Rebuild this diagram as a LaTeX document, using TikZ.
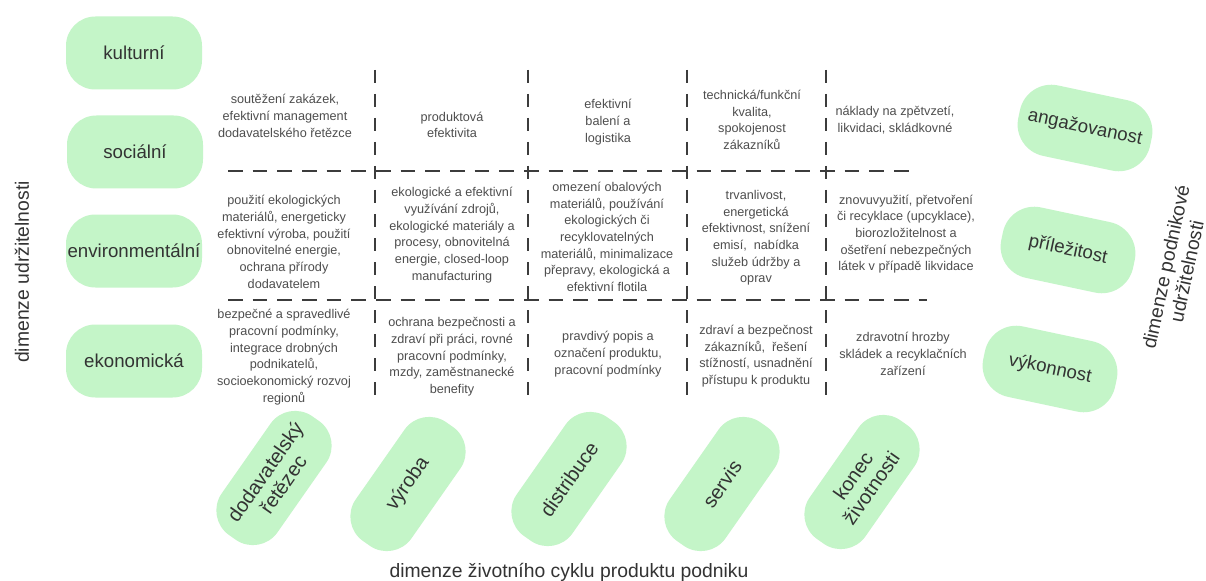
\documentclass[tikz,border=0pt]{standalone}
\usepackage{fontspec}
\setmainfont{Liberation Sans}
\definecolor{pillgreen}{RGB}{196,245,200}
\definecolor{pilltext}{RGB}{51,51,51}
\definecolor{celltext}{RGB}{78,78,78}
\definecolor{gridline}{RGB}{60,60,60}
\begin{document}
\begin{tikzpicture}[x=0.75pt,y=-0.75pt,
  pill/.style={rounded corners=22pt, fill=pillgreen, minimum width=102pt,
    minimum height=54.75pt, text=pilltext, inner sep=0pt, align=center,
    font=\fontsize{14}{16}\selectfont},
  lifepill/.style={pill, rotate=55, minimum width=108.75pt, minimum height=51pt,
    rounded corners=22.5pt, font=\fontsize{15}{16.5}\selectfont},
  firmpill/.style={pill, rotate=-12, minimum width=101pt, minimum height=54pt,
    rounded corners=24pt},
  cell/.style={align=center, text=celltext, inner sep=0pt,
    font=\fontsize{9.5}{12.5}\selectfont},
  axislabel/.style={align=center, text=pilltext, inner sep=0pt,
    font=\fontsize{14.5}{16}\selectfont},
  vgrid/.style={draw=gridline, line width=0.8pt, dash pattern=on 10pt off 8pt},
  hgrid/.style={draw=gridline, line width=0.8pt, dash pattern=on 11pt off 7.5pt}]

\useasboundingbox[fill=white] (0,0) rectangle (1206,581);

% grid of the matrix
\draw[vgrid] (375,70) -- (375,405);
\draw[vgrid] (528,70) -- (528,405);
\draw[vgrid] (687,70) -- (687,405);
\draw[vgrid] (826,70) -- (826,405);
\draw[hgrid] (228,171) -- (910,171);
\draw[hgrid] (228,300) -- (927,300);

% sustainability dimensions
\node[pill] (kult) at (134,53) {kulturní};
\node[pill] (soc) at (135,152) {sociální};
\node[pill] (env) at (134,251) {environmentální};
\node[pill] (eko) at (134,361) {ekonomická};
\node[axislabel, rotate=90] (dimud) at (22,272) {dimenze udržitelnosti};

% life-cycle dimensions
\node[lifepill] (dod) at (274,478) {dodavatelský\\řetězec};
\node[lifepill] (vyr) at (408,484) {výroba};
\node[lifepill] (dis) at (569,479) {distribuce};
\node[lifepill] (ser) at (722,484) {servis};
\node[lifepill] (kon) at (862,482) {konec\\životnosti};
\node[axislabel] (dimcyk) at (569,572) {dimenze životního cyklu produktu podniku};

% corporate sustainability dimensions
\node[firmpill] (ang) at (1085,128) {angažovanost};
\node[firmpill] (pri) at (1068,250) {příležitost};
\node[firmpill] (vyk) at (1050,369) {výkonnost};
\node[axislabel, rotate=78] (dimpod) at (1176,269) {dimenze podnikové\\udržitelnosti};

% social row
\node[cell] (s1) at (285,116) {soutěžení zakázek,\\efektivní management\\dodavatelského řetězce};
\node[cell] (s2) at (452,125) {produktová\\efektivita};
\node[cell] (s3) at (608,122) {efektivní\\balení a\\logistika};
\node[cell] (s4) at (752,120) {technická/funkční\\kvalita,\\spokojenost\\zákazníků};
\node[cell] (s5) at (895,120) {náklady na zpětvzetí,\\likvidaci, skládkovné};

% environmental row
\node[cell] (e1) at (284,242) {použití ekologických\\materiálů, energeticky\\efektivní výroba, použití\\obnovitelné energie,\\ochrana přírody\\dodavatelem};
\node[cell] (e2) at (452,235) {ekologické a efektivní\\využívání zdrojů,\\ekologické materiály a\\procesy, obnovitelná\\energie, closed-loop\\manufacturing};
\node[cell] (e3) at (607,237) {omezení obalových\\materiálů, používání\\ekologických či\\recyklovatelných\\materiálů, minimalizace\\přepravy, ekologická a\\efektivní flotila};
\node[cell] (e4) at (756,238) {trvanlivost,\\energetická\\efektivnost, snížení\\emisí,\ \ nabídka\\služeb údržby a\\oprav};
\node[cell] (e5) at (906,234) {znovuvyužití, přetvoření\\či recyklace (upcyklace),\\biorozložitelnost a\\ošetření nebezpečných\\látek v případě likvidace};

% economic row
\node[cell] (k1) at (284,357) {bezpečné a spravedlivé\\pracovní podmínky,\\integrace drobných\\podnikatelů,\\socioekonomický rozvoj\\regionů};
\node[cell] (k2) at (452,357) {ochrana bezpečnosti a\\zdraví při práci, rovné\\pracovní podmínky,\\mzdy, zaměstnanecké\\benefity};
\node[cell] (k3) at (608,354) {pravdivý popis a\\označení produktu,\\pracovní podmínky};
\node[cell] (k4) at (756,356) {zdraví a bezpečnost\\zákazníků,\ \ řešení\\stížností, usnadnění\\přístupu k produktu};
\node[cell] (k5) at (903,354) {zdravotní hrozby\\skládek a recyklačních\\zařízení};

\end{tikzpicture}
\end{document}
